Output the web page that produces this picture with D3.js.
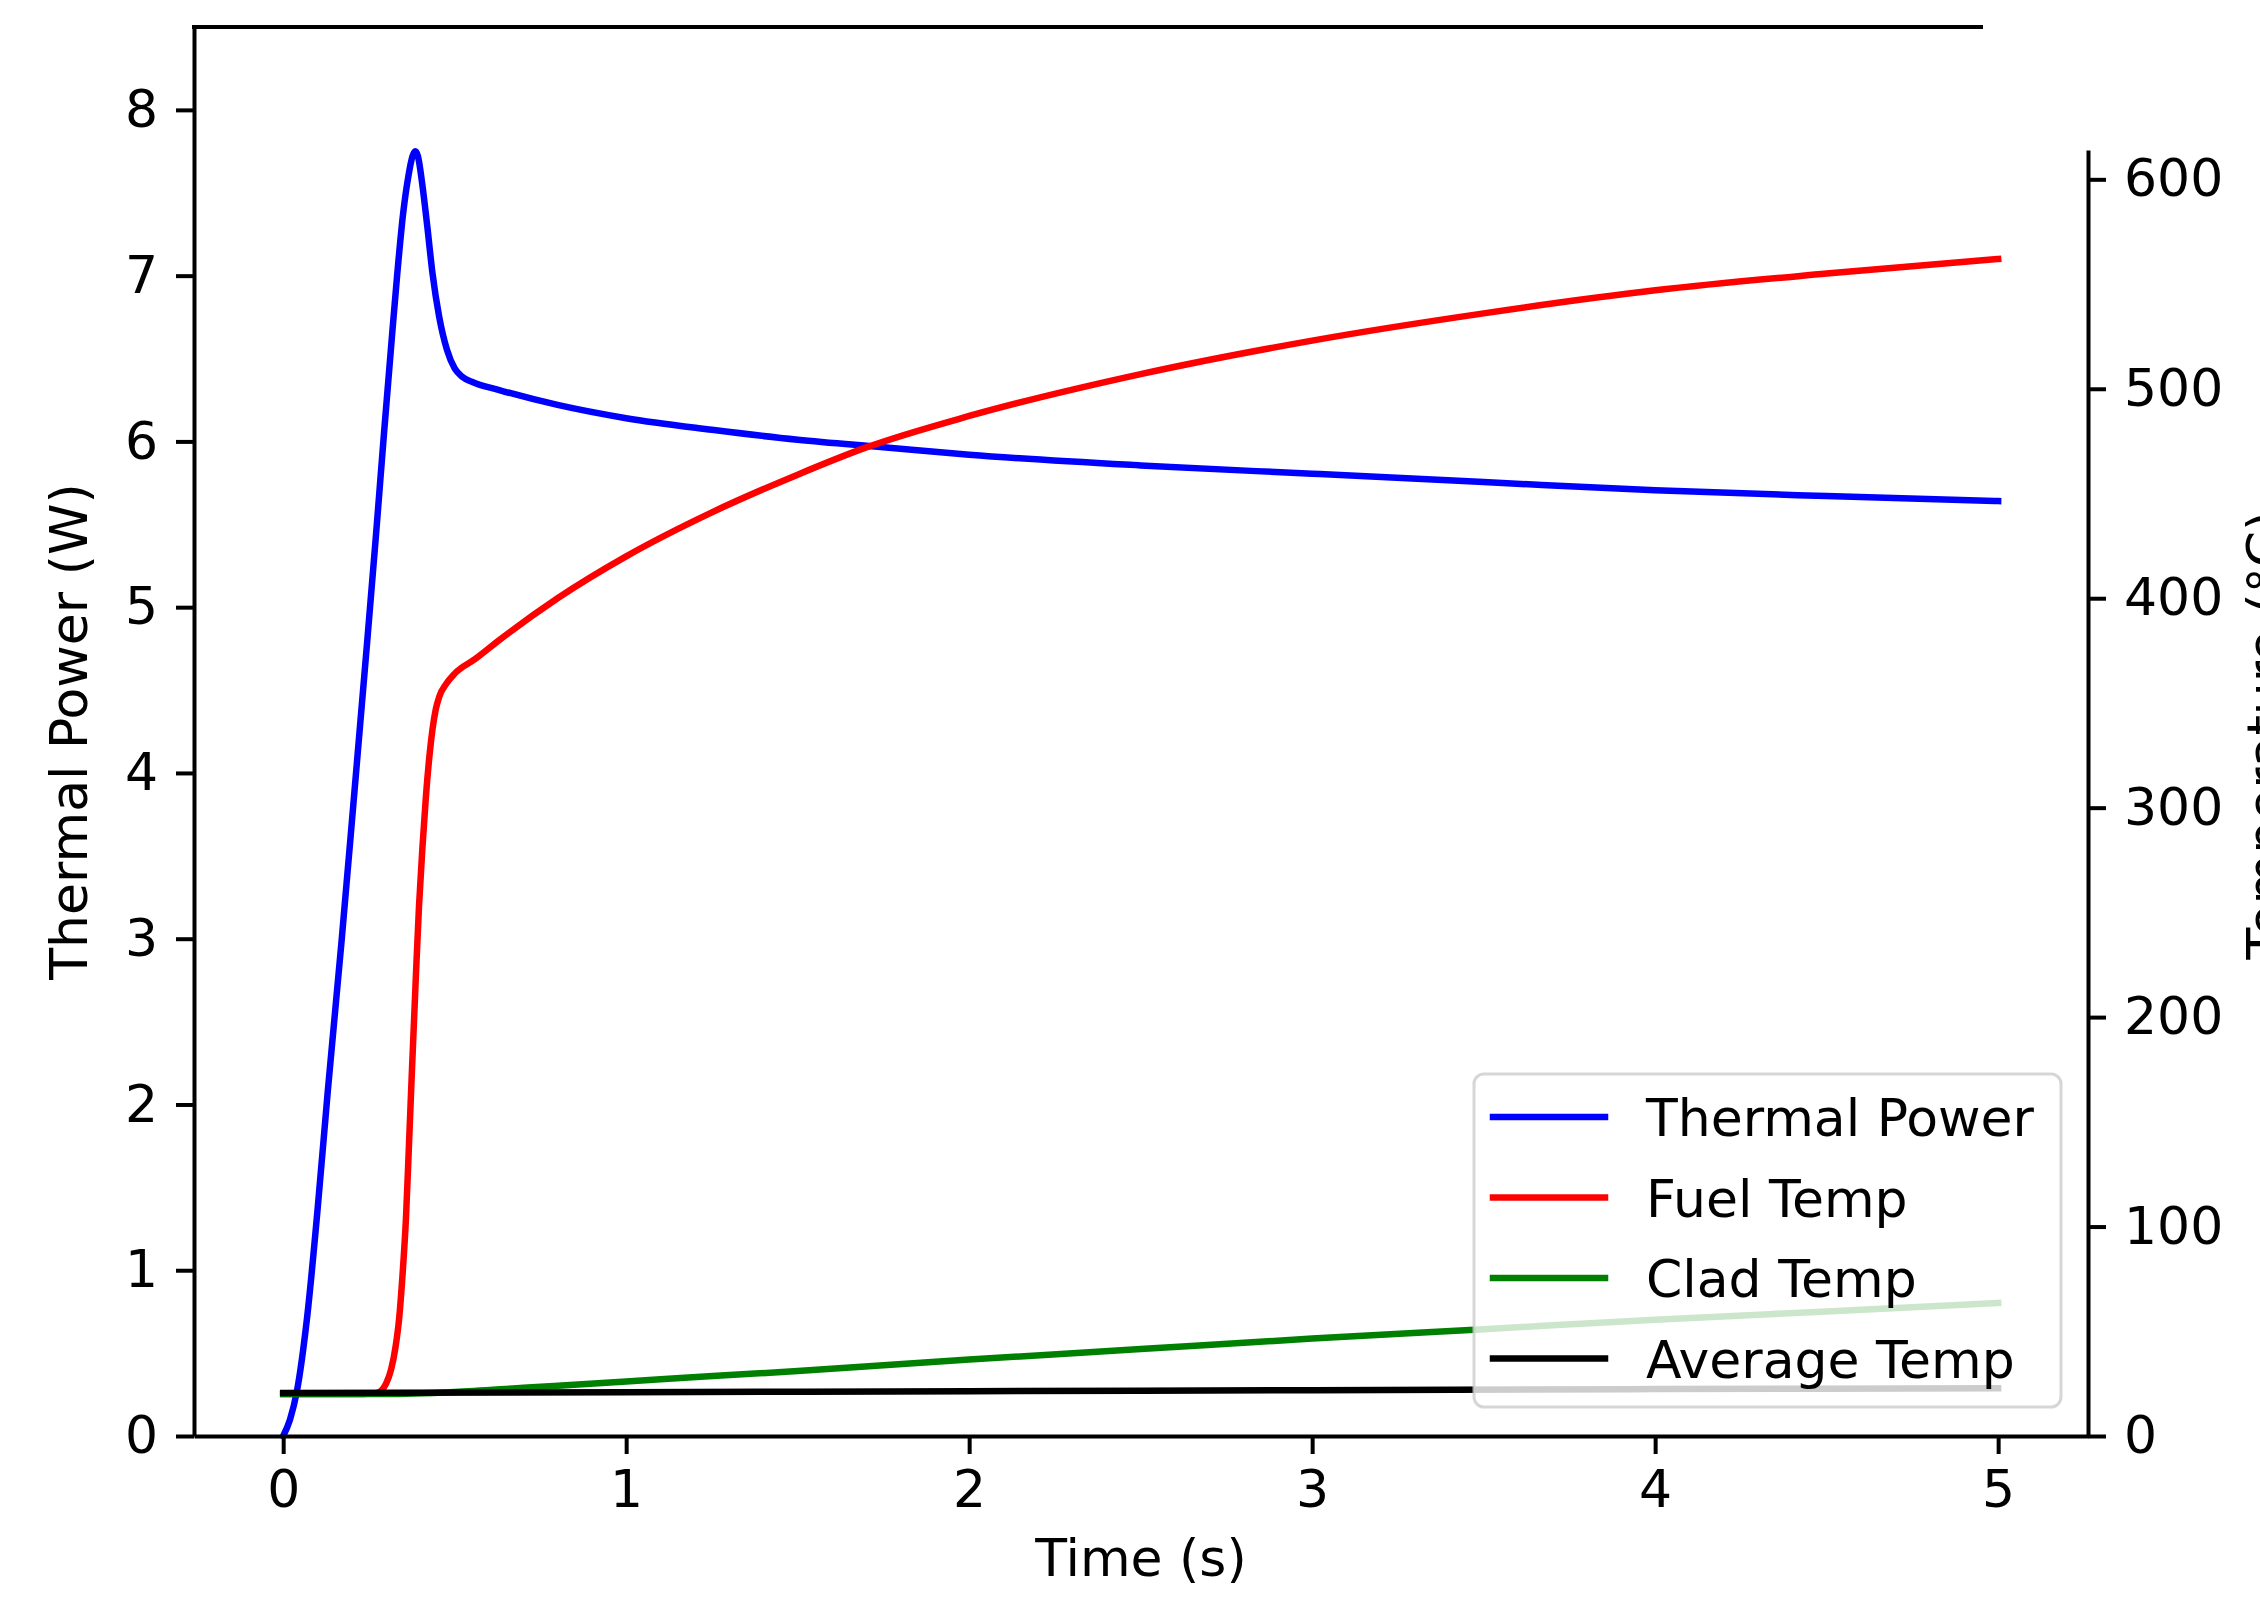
<!DOCTYPE html>
<html>
<head>
<meta charset="utf-8">
<script src="https://cdn.jsdelivr.net/npm/d3@7"></script>
<style>
  body { margin: 0; background: #ffffff; }
  svg { display: block; font-family: "DejaVu Sans", sans-serif; }
</style>
</head>
<body>
<div id="chart"></div>
<script>
// Values
const powerTime = [0, 0.02, 0.04, 0.07, 0.10, 0.13, 0.17, 0.205, 0.242, 0.27, 0.294, 0.315, 0.333, 0.35, 0.365, 0.377, 0.385, 0.393, 0.405, 0.42, 0.435, 0.455, 0.478, 0.50, 0.522, 0.55, 0.63, 0.80, 1.0, 1.25, 1.5, 1.75, 2.0, 2.5, 3.0, 3.5, 4.0, 4.5, 5.0];
const powerValues = [0, 0.1, 0.27, 0.72, 1.36, 2.08, 2.98, 3.82, 4.72, 5.42, 6.05, 6.58, 7.02, 7.38, 7.6, 7.72, 7.75, 7.72, 7.56, 7.3, 7.02, 6.75, 6.55, 6.44, 6.39, 6.36, 6.31, 6.22, 6.14, 6.07, 6.01, 5.965, 5.92, 5.855, 5.805, 5.755, 5.705, 5.67, 5.64];

const fuelTime = [0, 0.1, 0.2, 0.27, 0.285, 0.30, 0.315, 0.328, 0.338, 0.348, 0.358, 0.367, 0.376, 0.386, 0.396, 0.406, 0.416, 0.426, 0.435, 0.445, 0.455, 0.475, 0.5, 0.56, 0.63, 0.8, 1.0, 1.25, 1.5, 1.7, 2.0, 2.5, 3.0, 3.5, 4.0, 4.5, 5.0];
const fuelValues = [20, 20, 20, 20.4, 21.5, 25, 32, 43, 56, 77, 104, 140, 177, 216, 253, 281, 305, 324, 337, 347, 353, 359, 364, 371, 380, 400, 420, 441, 459, 472, 487, 507, 523, 536, 547, 555, 562];

const cladTime = [0, 0.3, 0.5, 0.7, 1.0, 1.24, 1.5, 2.0, 2.5, 3.0, 3.5, 4.0, 4.5, 5.0];
const cladValues = [20, 20, 21, 23, 26, 28.5, 31, 36.5, 41.5, 46.5, 51, 55.5, 59.5, 63.5];

const avgTime = [0, 1, 2, 3, 4, 5];
const avgValues = [20.5, 20.9, 21.4, 21.9, 22.4, 22.8];

const seriesNames = ["Thermal Power", "Fuel Temp", "Clad Temp", "Average Temp"];
const seriesColors = ["#0000ff", "#ff0000", "#008000", "#000000"];

const timeTicks = [0, 1, 2, 3, 4, 5];
const powerTicks = [0, 1, 2, 3, 4, 5, 6, 7, 8];
const tempTicks = [0, 100, 200, 300, 400, 500, 600];

// Page and plot box
const W = 2260, H = 1599;
const plotLeft = 194, plotRight = 2088, plotTop = 27, plotBottom = 1436;
const tempTop = 150;      // right axis starts lower than the frame
const topSpineEnd = 1983; // the top frame line stops short of the right axis
const fontSize = 52;
const tickLen = 18;
const lineW = 6.5;

const svg = d3.select("#chart")
    .append("svg")
    .attr("width", W)
    .attr("height", H);

// Scales
const x = d3.scaleLinear().domain([-0.26, 5.262]).range([plotLeft, plotRight]);
const yPower = d3.scaleLinear().domain([0, 8.5]).range([plotBottom, plotTop]);
const yTemp = d3.scaleLinear().domain([0, 614]).range([plotBottom, tempTop]);

function toPoints(ts, vs) {
    return ts.map(function (t, i) { return { t: t, v: vs[i] }; });
}

const powerLine = d3.line()
    .x(function (d) { return x(d.t); })
    .y(function (d) { return yPower(d.v); })
    .curve(d3.curveMonotoneX);

const tempLine = d3.line()
    .x(function (d) { return x(d.t); })
    .y(function (d) { return yTemp(d.v); })
    .curve(d3.curveMonotoneX);

// Lines: power on the left axis, temperatures on the twin axis
const lines = [
    { pts: toPoints(powerTime, powerValues), gen: powerLine },
    { pts: toPoints(fuelTime, fuelValues), gen: tempLine },
    { pts: toPoints(cladTime, cladValues), gen: tempLine },
    { pts: toPoints(avgTime, avgValues), gen: tempLine }
];

lines.forEach(function (s, i) {
    svg.append("path")
        .datum(s.pts)
        .attr("fill", "none")
        .attr("stroke", seriesColors[i])
        .attr("stroke-width", lineW)
        .attr("stroke-linecap", "square")
        .attr("stroke-linejoin", "round")
        .attr("d", s.gen);
});

// Axes
function styleAxis(g) {
    g.selectAll(".domain").attr("stroke", "#000").attr("stroke-width", 4);
    g.selectAll(".tick line").attr("stroke", "#000").attr("stroke-width", 4);
    g.selectAll(".tick text")
        .attr("fill", "#000")
        .attr("font-size", fontSize)
        .attr("font-family", "DejaVu Sans, sans-serif");
}

svg.append("g")
    .attr("transform", "translate(0," + plotBottom + ")")
    .call(d3.axisBottom(x).tickValues(timeTicks).tickFormat(d3.format("d"))
        .tickSize(tickLen).tickSizeOuter(0).tickPadding(16))
    .call(styleAxis);

svg.append("g")
    .attr("transform", "translate(" + plotLeft + ",0)")
    .call(d3.axisLeft(yPower).tickValues(powerTicks).tickFormat(d3.format("d"))
        .tickSize(tickLen).tickSizeOuter(0).tickPadding(18))
    .call(styleAxis);

svg.append("g")
    .attr("transform", "translate(" + plotRight + ",0)")
    .call(d3.axisRight(yTemp).tickValues(tempTicks).tickFormat(d3.format("d"))
        .tickSize(tickLen).tickSizeOuter(0).tickPadding(18))
    .call(styleAxis);

// Top frame line
svg.append("line")
    .attr("x1", plotLeft - 2).attr("x2", topSpineEnd)
    .attr("y1", plotTop).attr("y2", plotTop)
    .attr("stroke", "#000")
    .attr("stroke-width", 4);

// Axis labels
svg.append("text")
    .attr("x", (plotLeft + plotRight) / 2)
    .attr("y", 1576)
    .attr("text-anchor", "middle")
    .attr("font-size", fontSize)
    .text("Time (s)");

svg.append("text")
    .attr("transform", "translate(87," + (plotTop + plotBottom) / 2 + ") rotate(-90)")
    .attr("text-anchor", "middle")
    .attr("font-size", fontSize)
    .text("Thermal Power (W)");

// The reference crops this label at the right edge of the picture
svg.append("text")
    .attr("transform", "translate(2284,735) rotate(-90)")
    .attr("text-anchor", "middle")
    .attr("font-size", fontSize)
    .text("Temperature (°C)");

// Legend
const legend = svg.append("g").attr("transform", "translate(1474,1074)");

legend.append("rect")
    .attr("width", 587)
    .attr("height", 333)
    .attr("rx", 10)
    .attr("fill", "#ffffff")
    .attr("fill-opacity", 0.8)
    .attr("stroke", "#cccccc")
    .attr("stroke-opacity", 0.8)
    .attr("stroke-width", 3);

seriesNames.forEach(function (name, i) {
    const cy = 43 + i * 80.5;
    legend.append("line")
        .attr("x1", 19).attr("x2", 131)
        .attr("y1", cy).attr("y2", cy)
        .attr("stroke", seriesColors[i])
        .attr("stroke-width", lineW)
        .attr("stroke-linecap", "square");
    legend.append("text")
        .attr("x", 172)
        .attr("y", cy + 19)
        .attr("font-size", fontSize)
        .text(name);
});
</script>
</body>
</html>
